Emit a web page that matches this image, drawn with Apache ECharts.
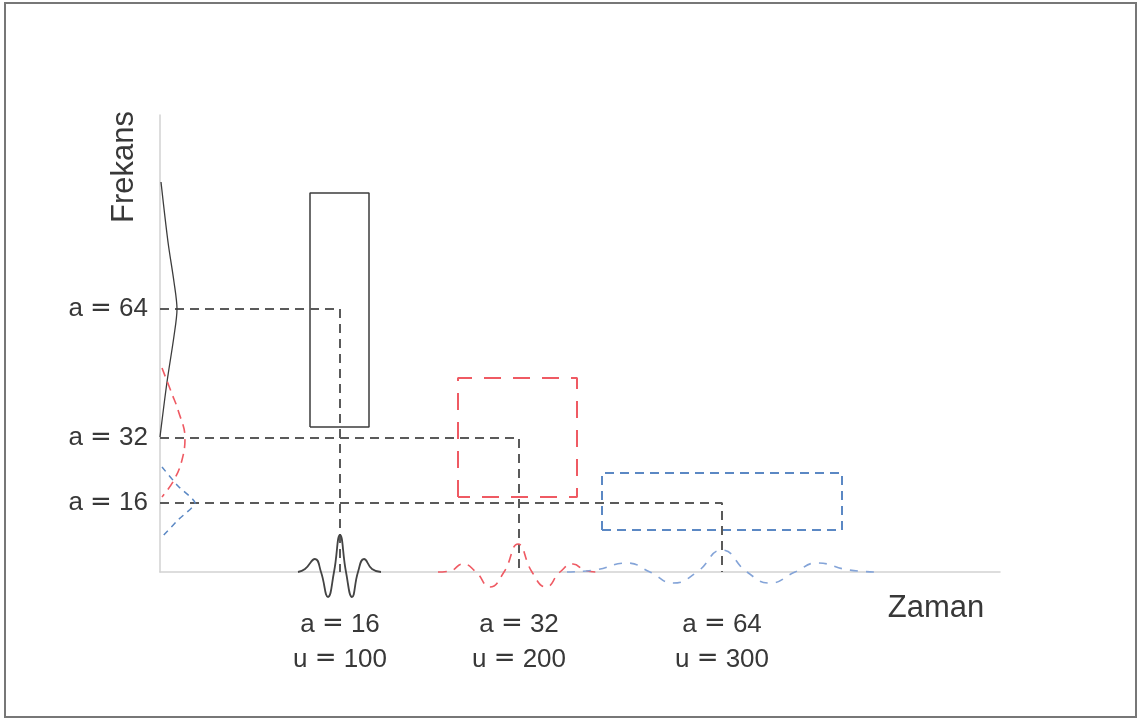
<!DOCTYPE html>
<html>
<head>
<meta charset="utf-8">
<style>
  html, body { margin: 0; padding: 0; background: #fff; }
  #chart { width: 1141px; height: 720px; }
</style>
<script src="https://cdn.jsdelivr.net/npm/echarts@6.0.0/dist/echarts.min.js"></script>
</head>
<body>
<div id="chart"></div>
<script>
// Time–frequency tiling of three wavelets (scale a, shift u).
// Axis units: time runs 0..840 along the horizontal axis, frequency 0..457 up the vertical axis.

const scaleLabels = ['a = 16', 'a = 32', 'a = 64'];
const shiftLabels = ['u = 100', 'u = 200', 'u = 300'];
const timeCenters = [180, 359, 562];          // positions of u = 100, 200, 300 on the time axis
const freqLevelLabels = ['a = 64', 'a = 32', 'a = 16'];
const freqLevels = [263, 134, 69];             // centre frequency of each wavelet

// Heisenberg boxes of each atom
const boxLeft   = [150, 298, 442];
const boxRight  = [209, 417, 682];
const boxTop    = [379, 194, 99];
const boxBottom = [145, 75, 42];

// Wavelets in time (time, amplitude pairs)
const waveletA16 = [[138,0],[145,3],[155,13],[161,0],[168,-25],[174,0],[180,37],[186,0],[192,-25],[198,0],[204,13],[212,3],[221,0]];
const waveletA32 = [[278,0],[290,1],[303,8],[316,0],[330,-15],[344,0],[358,28],[372,0],[386,-15],[400,0],[413,8],[426,1],[438,0]];
const waveletA64 = [[407,0],[435,2],[467,9],[490,0],[513,-11],[537,0],[562,22],[587,0],[610,-11],[635,0],[657,9],[689,2],[717,0]];

// Spectra along the frequency axis (amplitude, frequency pairs)
const spectrumA16 = [[1,390],[8,330],[14,290],[17,263],[14,236],[7,190],[0,135]];
const spectrumA32 = [[2,204],[12,178],[18,162],[25,134],[22,112],[14,92],[2,75]];
const spectrumA64 = [[2,105],[18,86],[35,69],[18,52],[2,35]];

const ink = '#3c3c3c';
const guide = '#5a5a5a';
const red = '#ef5a63';
const blue = '#5b88c4';
const blueLight = '#84a4d8';
const textColor = '#383838';
const font = '"Liberation Sans", Arial, Helvetica, sans-serif';
const labelSize = 26;

// the equals sign is set in a wider face
function eqRich(s) {
  return s.replace(' = ', ' {e|=} ');
}
const richEq = {
  e: { fontFamily: '"DejaVu Sans", sans-serif', fontSize: labelSize, color: textColor, lineHeight: 35 }
};

function line(data, color, width, type, extra) {
  return Object.assign({
    type: 'line',
    data: data,
    symbol: 'none',
    silent: true,
    clip: false,
    animation: false,
    lineStyle: { color: color, width: width, type: type }
  }, extra || {});
}

function boxPath(i) {
  return [
    [boxLeft[i], boxBottom[i]],
    [boxLeft[i], boxTop[i]],
    [boxRight[i], boxTop[i]],
    [boxRight[i], boxBottom[i]],
    [boxLeft[i], boxBottom[i]]
  ];
}

// Guide from the frequency level across to the wavelet centre, then down to the time axis
function guidePath(level, center) {
  return [[0, level], [center, level], [center, 0]];
}

const series = [
  line(boxPath(0), ink, 1.5, 'solid'),
  line(boxPath(1), red, 2, [17, 12]),
  line(boxPath(2), blue, 2, [9, 6]),
  line(guidePath(freqLevels[0], timeCenters[0]), guide, 2, [9, 6]),
  line(guidePath(freqLevels[1], timeCenters[1]), guide, 2, [9, 6]),
  line(guidePath(freqLevels[2], timeCenters[2]), guide, 2, [9, 6]),
  line(waveletA16, '#444444', 1.8, 'solid', { smooth: 0.5 }),
  line(waveletA32, red, 1.6, [9, 7], { smooth: 0.5 }),
  line(waveletA64, blueLight, 1.6, [8, 8], { smooth: 0.5 }),
  line(spectrumA16, ink, 1.3, 'solid', { smooth: 0.3 }),
  line(spectrumA32, red, 1.6, [9, 6], { smooth: 0.4 }),
  line(spectrumA64, blue, 1.5, [6, 5], { smooth: 0.2 })
];

const chart = echarts.init(document.getElementById('chart'), null, { renderer: 'canvas' });

chart.setOption({
  backgroundColor: '#ffffff',
  animation: false,
  grid: { left: 160, top: 115, width: 840, height: 457, containLabel: false },
  xAxis: {
    type: 'value',
    min: 0,
    max: 840,
    splitLine: { show: false },
    axisTick: { show: false },
    axisLine: { show: true, lineStyle: { color: '#d2d2d2', width: 1.5 } },
    axisLabel: {
      customValues: timeCenters,
      margin: 35,
      color: textColor,
      fontFamily: font,
      fontSize: labelSize,
      lineHeight: 35,
      align: 'center',
      rich: richEq,
      formatter: function (v) {
        const i = timeCenters.indexOf(v);
        return i < 0 ? '' : eqRich(scaleLabels[i]) + '\n' + eqRich(shiftLabels[i]);
      }
    }
  },
  yAxis: {
    type: 'value',
    min: 0,
    max: 457,
    splitLine: { show: false },
    axisTick: { show: false },
    axisLine: { show: true, lineStyle: { color: '#d2d2d2', width: 1.5 } },
    axisLabel: {
      customValues: freqLevels,
      margin: 12,
      color: textColor,
      fontFamily: font,
      fontSize: labelSize,
      rich: richEq,
      formatter: function (v) {
        const i = freqLevels.indexOf(v);
        return i < 0 ? '' : eqRich(freqLevelLabels[i]);
      }
    }
  },
  graphic: [
    {
      type: 'rect',
      shape: { x: 5, y: 3, width: 1131, height: 714 },
      style: { fill: 'none', stroke: '#777777', lineWidth: 2 },
      silent: true
    },
    {
      type: 'text',
      x: 124,
      y: 167,
      rotation: Math.PI / 2,
      style: {
        text: 'Frekans',
        fill: textColor,
        font: '31px ' + font,
        textAlign: 'center',
        textVerticalAlign: 'middle'
      },
      silent: true
    },
    {
      type: 'text',
      x: 936,
      y: 608,
      style: {
        text: 'Zaman',
        fill: textColor,
        font: '31px ' + font,
        textAlign: 'center',
        textVerticalAlign: 'middle'
      },
      silent: true
    }
  ],
  series: series
});
</script>
</body>
</html>
